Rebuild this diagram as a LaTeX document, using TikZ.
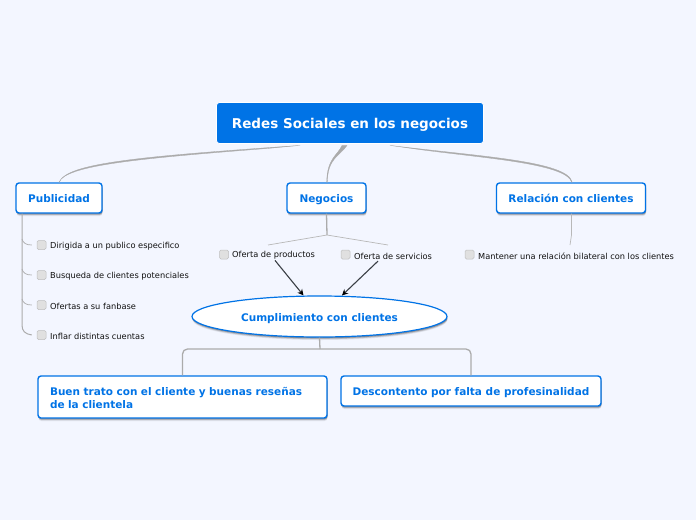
\documentclass[tikz,border=0pt]{standalone}
\usepackage{fontspec}
\setmainfont{DejaVu Sans}
\usetikzlibrary{shapes.geometric,shadows,arrows.meta}
\definecolor{bg}{HTML}{F3F6FF}
\definecolor{mblue}{HTML}{0073E6}
\definecolor{cgrey}{HTML}{ABABAB}
\definecolor{cdark}{HTML}{3A3F45}
\definecolor{boxgrey}{HTML}{E0E0E0}
\definecolor{txt}{HTML}{111111}
\tikzset{
 x=1pt,y=-1pt,
 softshadow/.style={
  general shadow={shadow xshift=.5pt,shadow yshift=-3pt,opacity=.08,fill=black},
  general shadow={shadow xshift=.5pt,shadow yshift=-2.2pt,opacity=.16,fill=black},
  general shadow={shadow xshift=.5pt,shadow yshift=-1.3pt,opacity=.25,fill=black}},
 rootbox/.style={rectangle,rounded corners=3pt,fill=mblue,draw=white,line width=.8pt,text=white,font=\bfseries\fontsize{13.5}{16}\selectfont,minimum width=267pt,minimum height=41pt,inner sep=0pt,text height=12.5pt,text depth=2.5pt},
 topicbox/.style={rectangle,rounded corners=3pt,fill=white,draw=mblue,line width=1.4pt,text=mblue,font=\bfseries\fontsize{10.5}{13}\selectfont,inner sep=0pt,minimum height=30pt,text height=10pt,text depth=2pt,softshadow},
 ellbox/.style={ellipse,fill=white,draw=mblue,line width=1.2pt,text=mblue,font=\bfseries\fontsize{10.5}{13}\selectfont,inner sep=0pt,minimum width=255pt,minimum height=41pt,text height=11pt,text depth=2pt,softshadow},
 checkbox/.style={rectangle,rounded corners=1.5pt,fill=boxgrey,draw=black!25,line width=.5pt,minimum width=9pt,minimum height=9pt,inner sep=0pt},
 itemtext/.style={anchor=west,text=txt,font=\fontsize{8.25}{10}\selectfont,inner sep=0pt,yshift=-1.2pt},
 taper/.style={fill=cgrey,draw=cgrey,line width=.3pt},
 thinline/.style={draw=cgrey!85,line width=.7pt},
 midline/.style={draw=cgrey,line width=1.3pt},
 tick/.style={draw=cgrey,line width=.7pt},
 arrowline/.style={draw=cdark,line width=1.1pt,-{Stealth[length=6pt,width=6pt,black]}},
}
\begin{document}
\begin{tikzpicture}
\useasboundingbox[fill=bg] (0,0) rectangle (696,520);
% connectors' free ends
\coordinate (negj) at (327,235);
\coordinate (nl) at (268,245);
\coordinate (nr) at (388,245);
\coordinate (relj) at (571.5,235);
\coordinate (relk) at (570,245);
\coordinate (ellj) at (320,349);
% nodes
\node[rootbox] (root) at (350,123) {Redes Sociales en los negocios};
\node[topicbox,minimum width=86pt] (pub) at (59,198) {Publicidad};
\node[topicbox,minimum width=79pt] (neg) at (326.5,198) {Negocios};
\node[topicbox,minimum width=149pt] (rel) at (571,198) {Relación con clientes};
\node[ellbox] (ell) at (319.5,316.5) {Cumplimiento con clientes};
\node[topicbox,minimum width=289pt,minimum height=42pt,align=left,text width=265pt,text height=10pt,text depth=14pt] (buen) at (182.5,397) {Buen trato con el cliente y buenas reseñas\\de la clientela};
\node[topicbox,minimum width=260pt] (desc) at (471,391) {Descontento por falta de profesinalidad};
% items
\foreach \n/\y/\t in {a/245/Dirigida a un publico especifico,b/275/Busqueda de clientes potenciales,c/305/Ofertas a su fanbase,d/335/Inflar distintas cuentas}{
 \node[checkbox] (ck\n) at (41.5,\y) {};
 \node[itemtext] (it\n) at (50,\y) {\t};
}
\node[checkbox] (ckn1) at (224,254.5) {};
\node[itemtext] (itn1) at (232,254.5) {Oferta de productos};
\node[checkbox] (ckn2) at (345.5,254.5) {};
\node[itemtext] (itn2) at (354,255) {Oferta de servicios};
\node[checkbox] (ckr) at (469.5,254.5) {};
\node[itemtext] (itr) at (478,255) {Mantener una relación bilateral con los clientes};
% tapered connectors from the root
\fill[taper] ([xshift=-50pt,yshift=-1.5pt]root.south) .. controls (140,156.5) and (66,163) .. ([xshift=.3pt]pub.north) -- ([xshift=-.1pt]pub.north) .. controls (66,165) and (140,158.5) .. ([xshift=-82pt,yshift=-4.5pt]root.south) -- cycle;
\fill[taper] ([xshift=-3pt,yshift=-1.5pt]root.south) .. controls (340,156) and (327.5,158) .. ([xshift=.8pt]neg.north) -- ([xshift=.2pt]neg.north) .. controls (327,158) and (338,155) .. ([xshift=-8pt,yshift=-1.5pt]root.south) -- cycle;
\fill[taper] ([xshift=40pt,yshift=-1.5pt]root.south) .. controls (480,156.5) and (568,161) .. ([xshift=1.2pt]rel.north) -- ([xshift=.8pt]rel.north) .. controls (566,163) and (480,158) .. ([xshift=65pt,yshift=-5pt]root.south) -- cycle;
% Negocios branch
\draw[midline] (neg.south) -- (negj);
\draw[thinline] (nl) -- (negj) -- (nr);
% Publicidad branch
\draw[midline,line width=1pt] ([xshift=-37pt]pub.south) -- (22,325) .. controls (22,331) and (25,334) .. ([xshift=-5pt]ckd.west);
\foreach \n/\y in {a/245,b/275,c/305}{
 \draw[tick] (22,\y-6) .. controls (23,\y-2) and (26,\y) .. ([xshift=-5pt]ck\n.west);
}
% Relacion branch
\draw[thinline] ([xshift=.5pt]rel.south) -- (relj) -- (relk);
% arrows
\draw[arrowline] ([xshift=43pt,yshift=-.5pt]itn1.south west) -- ([xshift=-16pt]ell.north);
\draw[arrowline] ([xshift=24pt,yshift=-1.5pt]itn2.south west) -- ([xshift=22.5pt]ell.north);
% ellipse to boxes
\draw[midline] (ell.south) -- (ellj);
\draw[midline,rounded corners=5pt] (buen.north) -- (buen.north |- ellj) -- (desc.north |- ellj) -- (desc.north);
\end{tikzpicture}
\end{document}
